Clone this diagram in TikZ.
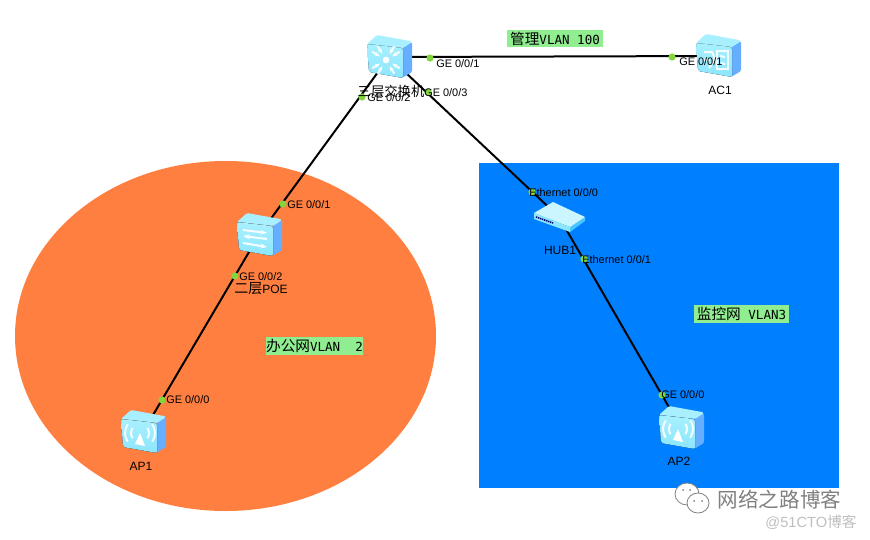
\documentclass[tikz,border=0pt]{standalone}
\usepackage{fontspec}
\setmainfont{Liberation Sans}
\setmonofont{DejaVu Sans Mono}
\newfontfamily\cjk{Noto Sans CJK SC}
\usetikzlibrary{arrows.meta}
\definecolor{areaorange}{HTML}{FF7F40}
\definecolor{areablue}{HTML}{0080FF}
\definecolor{portgreen}{HTML}{82D63C}
\definecolor{tagfill}{HTML}{90EE90}
\definecolor{sideblue}{HTML}{66AEFF}
\definecolor{facetop}{HTML}{A8F0FF}
\definecolor{facebottom}{HTML}{8CE6FC}
\tikzset{
  device/.style={minimum size=12pt,inner sep=0pt},
  wire/.style={line width=1.5pt,black},
  portdot/.style={circle,fill=portgreen,minimum size=5.4pt,inner sep=0pt},
  portlabel/.style={anchor=west,inner sep=0pt,font=\fontsize{8.2}{10}\selectfont},
  devlabel/.style={inner sep=0pt,font=\fontsize{9}{10}\selectfont},
  cjklabel/.style={inner sep=0pt,font=\fontsize{10}{12}\selectfont\cjk},
  tag/.style={fill=tagfill,minimum width=71.5pt,minimum height=13pt,inner sep=0pt,
    font=\fontsize{11}{12}\selectfont\cjk},
  glyph/.style={white,line width=1.5pt,opacity=.9},
  pics/boxicon/.style={code={
    \fill[sideblue,rounded corners=1pt] (13,-9) -- (23,-15) -- (23,15) -- (13,21) -- cycle;
    \fill[facetop,rounded corners=1pt] (-22,-13) -- (-12,-22) -- (21,-16) -- (23,-15) -- (14,-9) -- cycle;
    \fill[top color=facetop,bottom color=facebottom,rounded corners=1.5pt] (-22,-13) -- (14,-9) -- (14,21) -- (-20,15) -- cycle;
  }},
  pics/coreglyph/.style={code={
    \fill[white] (-3,3) circle (3.4);
    \foreach \a in {45,135,225,315}{
      \draw[glyph,-{Stealth[length=4pt]}] (-3,3) ++(\a+14:16) -- ++(\a+194:9);
      \draw[glyph,-{Stealth[length=4pt]}] (-3,3) ++(\a-14:16) -- ++(\a+166:9);
    }
  }},
  pics/acglyph/.style={code={
    \draw[glyph] (-14,-4) -- (-6,-4) -- (-3,3) -- (-9,12);
    \draw[glyph] (-15,4) -- (-8,4);
    \draw[glyph] (-1,-5) rectangle (10,13);
    \draw[glyph] (2,0) -- (7,1) (3,7) -- (7,8);
  }},
  pics/hopglyph/.style={code={
    \draw[glyph,-{Stealth[length=5pt]}] (-16,-5) -- (8,-2);
    \draw[glyph,-{Stealth[length=5pt]}] (8,4) -- (-16,1);
    \draw[glyph,-{Stealth[length=5pt]}] (-16,8) -- (8,12);
  }},
  pics/apglyph/.style={code={
    \fill[white] (-3,1) -- (2,14) -- (-8,12) -- cycle;
    \foreach \r in {9,15}{
      \draw[glyph] (-3,1) ++(145:\r) arc[start angle=145,end angle=215,radius=\r];
      \draw[glyph] (-3,1) ++(35:\r) arc[start angle=35,end angle=-35,radius=\r];
    }
  }},
  pics/hubicon/.style={code={
    \fill[sideblue!70!cyan] (11,15) -- (26,4) -- (26,0) -- (11,10) -- cycle;
    \fill[facetop!60!white] (-25,-4) -- (-6,-15) -- (26,0) -- (11,10) -- cycle;
    \fill[facebottom] (-25,-4) -- (11,10) -- (11,15) -- (-25,2) -- cycle;
    \draw[blue!45!black,line width=1.2pt,dash pattern=on 1pt off .6pt] (-23,0) -- (-6,6);
  }},
}
\begin{document}
\begin{tikzpicture}[x=0.75pt,y=-0.75pt]
  \useasboundingbox (0,0) rectangle (870,539);

  % areas
  \fill[areaorange] (225.5,336) ellipse [x radius=210.5,y radius=175];
  \fill[areablue] (479,163) rectangle (839,488);

  \node[device] (core) at (389,57) {};
  \node[device] (ac1) at (718,56) {};
  \node[device] (poe) at (259,235) {};
  \node[device] (ap1) at (143,432) {};
  \node[device] (hub1) at (559,217) {};
  \node[device] (ap2) at (681,428) {};

  \path[wire]
    (core) edge (ac1)
    (core) edge (poe)
    (poe) edge (ap1)
    (core) edge (hub1)
    (hub1) edge (ap2);

  \pic at (core) {boxicon};
  \pic at (core) {coreglyph};
  \pic at (ac1) {boxicon};
  \pic at (ac1) {acglyph};
  \pic at (poe) {boxicon};
  \pic at (poe) {hopglyph};
  \pic at (ap1) {boxicon};
  \pic at (ap1) {apglyph};
  \pic at (ap2) {boxicon};
  \pic at (ap2) {apglyph};
  \pic at (hub1) {hubicon};

  % ports
  \node[portdot] (p1) at (430,58) {};
  \node[portdot] (p2) at (672,57) {};
  \node[portdot] (p3) at (428,92) {};
  \node[portdot] (p4) at (362,97) {};
  \node[portdot] (p5) at (283,204) {};
  \node[portdot] (p6) at (235,276) {};
  \node[portdot] (p7) at (162,400) {};
  \node[portdot] (p8) at (532,192) {};
  \node[portdot] (p9) at (584,259) {};
  \node[portdot] (p10) at (662,395) {};

  \node[cjklabel] (corename) at (391,91) {三层交换机};
  \node[devlabel] (acname) at (720,90) {AC1};
  \node[devlabel] (hubname) at (560,250) {HUB1};
  \node[devlabel] (ap1name) at (141,466) {AP1};
  \node[devlabel] (ap2name) at (679,461) {AP2};
  \node[devlabel] (poename) at (261,289) {{\cjk\fontsize{10.5}{12}\selectfont 二层}POE};

  \node[portlabel] (l1) at (436,64) {GE 0/0/1};
  \node[portlabel] (l2) at (679,62) {GE 0/0/1};
  \node[portlabel] (l3) at (424,93) {GE 0/0/3};
  \node[portlabel] (l4) at (367,98) {GE 0/0/2};
  \node[portlabel] (l5) at (287,205) {GE 0/0/1};
  \node[portlabel] (l6) at (239,277) {GE 0/0/2};
  \node[portlabel] (l7) at (166,400) {GE 0/0/0};
  \node[portlabel] (l8) at (529,193) {Ethernet 0/0/0};
  \node[portlabel] (l9) at (582,260) {Ethernet 0/0/1};
  \node[portlabel] (l10) at (661,395) {GE 0/0/0};

  % vlan tags
  \node[tag] (mgmt) at (555,38.5) {管理\fontsize{9.4}{12}\selectfont\ttfamily VLAN 100};
  \node[tag] (office) at (314.5,346) {办公网\fontsize{9.4}{12}\selectfont\ttfamily VLAN\ \ 2};
  \node[tag] (watch) at (741.5,314) {监控网\fontsize{9.4}{12}\selectfont\ttfamily\ VLAN3};

  % watermark
  \draw[gray,fill=white,line width=.6pt] (687,494) ellipse [x radius=12,y radius=11];
  \fill[gray] (683,490) circle (1) (690,490) circle (1);
  \draw[gray,fill=white,line width=.6pt] (698,503) ellipse [x radius=11,y radius=10];
  \fill[gray] (694,501) circle (1) (702,501) circle (1);
  \node[inner sep=0pt,text=gray,font=\fontsize{15.4}{18}\selectfont\cjk] (mark) at (779.5,500) {网络之路博客};
  \node[inner sep=0pt,text=black!25,font=\fontsize{11}{13}\selectfont] (site) at (811,522) {@51CTO{\cjk 博客}};
\end{tikzpicture}
\end{document}
